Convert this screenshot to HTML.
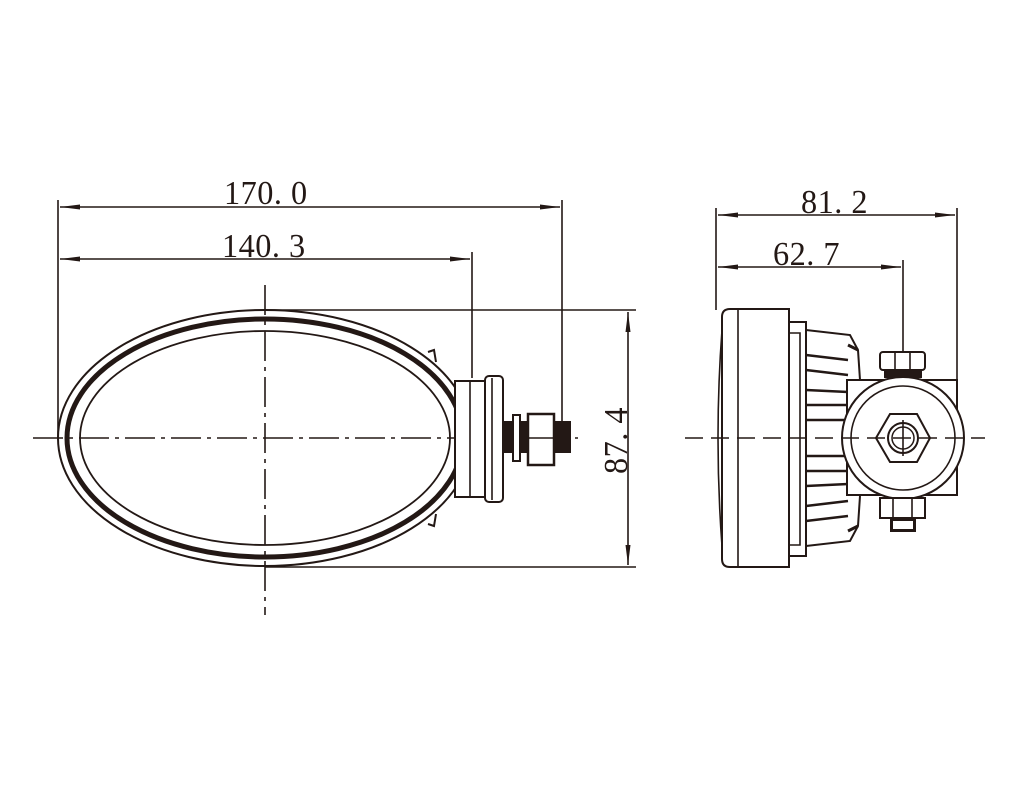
<!DOCTYPE html>
<html><head><meta charset="utf-8"><style>
html,body{margin:0;padding:0;background:#fff;}
svg{display:block;}
text{font-family:"Liberation Serif",serif;font-size:34px;fill:#231815;letter-spacing:0.5px;}
</style></head><body>
<svg width="1020" height="800" viewBox="0 0 1020 800" xmlns="http://www.w3.org/2000/svg">
<defs>
<marker id="a" viewBox="0 0 20 8" refX="20" refY="4" markerWidth="20" markerHeight="8" markerUnits="userSpaceOnUse" orient="auto-start-reverse"><path d="M0,1.5 L20,4 L0,6.5 Z" fill="#231815"/></marker>
</defs>
<g stroke="#231815" fill="none" stroke-width="1.6">
<line x1="58" y1="200" x2="58" y2="440"/>
<line x1="562" y1="200" x2="562" y2="440"/>
<line x1="472" y1="252" x2="472" y2="378"/>
<line x1="60" y1="207" x2="560" y2="207" marker-start="url(#a)" marker-end="url(#a)"/>
<line x1="60" y1="259" x2="470" y2="259" marker-start="url(#a)" marker-end="url(#a)"/>
<line x1="265" y1="310" x2="636" y2="310"/>
<line x1="265" y1="567" x2="636" y2="567"/>
<line x1="628" y1="312" x2="628" y2="565" marker-start="url(#a)" marker-end="url(#a)"/>
<line x1="33" y1="438" x2="578" y2="438" stroke-dasharray="30,6,4,6"/>
<line x1="265" y1="285" x2="265" y2="615" stroke-dasharray="30,6,4,6"/>
<ellipse cx="265" cy="438" rx="207" ry="128" stroke-width="2"/>
<ellipse cx="265" cy="438" rx="198" ry="119" stroke-width="5"/>
<ellipse cx="265" cy="438" rx="185" ry="107" stroke-width="1.8"/>
<path d="M428,352 L434,350 L436,362" stroke-width="2"/>
<path d="M428,524 L434,526 L436,514" stroke-width="2"/>
<rect x="455" y="381" width="30" height="116" stroke-width="2" fill="#fff"/>
<line x1="470" y1="381" x2="470" y2="497"/>
<rect x="485" y="376" width="18" height="126" rx="4" stroke-width="2" fill="#fff"/>
<line x1="492" y1="378" x2="492" y2="500"/>
<rect x="503" y="421" width="68" height="32" fill="#231815" stroke="none"/>
<rect x="513" y="415" width="7" height="46" fill="#fff" stroke-width="2"/>
<rect x="528" y="414" width="26" height="51" fill="#fff" stroke-width="2.5"/>
<line x1="528" y1="438" x2="554" y2="438"/>
<line x1="716" y1="208" x2="716" y2="310"/>
<line x1="957" y1="208" x2="957" y2="382"/>
<line x1="903" y1="260" x2="903" y2="438"/>
<line x1="718" y1="215" x2="955" y2="215" marker-start="url(#a)" marker-end="url(#a)"/>
<line x1="718" y1="267" x2="901" y2="267" marker-start="url(#a)" marker-end="url(#a)"/>
<path d="M730,309 L789,309 L789,567 L730,567 Q722,567 722,559 L722,317 Q722,309 730,309 Z" stroke-width="2" fill="#fff"/>
<line x1="738" y1="310" x2="738" y2="566"/>
<path d="M722,330 Q714,438 722,546"/>
<rect x="789" y="322" width="17" height="234" stroke-width="2" fill="#fff"/>
<path d="M790,333 L800,333 L800,545 L790,545"/>
<path d="M806,330 L850,335 L858,350 L860,380 M806,546 L850,541 L858,526 L860,496" stroke-width="2"/>
<path d="M806,355 L848,360 M806,370 L848,375 M806,390 L848,392 M806,405 L848,405 M806,420 L848,420 M806,456 L848,456 M806,471 L848,471 M806,486 L848,484 M806,506 L848,501 M806,521 L848,516" stroke-width="2.5"/>
<path d="M848,345 L858,350 M848,531 L858,526" stroke-width="3"/>
<rect x="847" y="380" width="110" height="115" stroke-width="2" fill="#fff"/>
<circle cx="903" cy="438" r="61" stroke-width="2" fill="#fff"/>
<circle cx="903" cy="438" r="52"/>
<polygon points="876,438 890,414 917,414 930,438 917,462 890,462" stroke-width="2" fill="#fff"/>
<circle cx="903" cy="438" r="15" stroke-width="2"/>
<circle cx="903" cy="438" r="11" stroke-width="1.5"/>
<rect x="880" y="352" width="45" height="18" rx="3" stroke-width="2" fill="#fff"/>
<line x1="895" y1="352" x2="895" y2="370"/><line x1="910" y1="352" x2="910" y2="370"/>
<rect x="884" y="370" width="38" height="8" fill="#231815" stroke="none"/>
<rect x="880" y="498" width="45" height="20" stroke-width="2" fill="#fff"/>
<line x1="893" y1="498" x2="893" y2="518"/><line x1="912" y1="498" x2="912" y2="518"/>
<rect x="890" y="518" width="26" height="14" fill="#231815" stroke="none"/>
<rect x="893" y="521" width="20" height="8" fill="#fff" stroke="none"/>
<line x1="685" y1="438" x2="985" y2="438" stroke-dasharray="18,8"/>
<line x1="903" y1="420" x2="903" y2="456"/>
</g>
<text transform="translate(224,204) scale(0.95,1)">170. 0</text>
<text transform="translate(222,257) scale(0.95,1)">140. 3</text>
<text transform="translate(801,213) scale(0.95,1)">81. 2</text>
<text transform="translate(773,265) scale(0.95,1)">62. 7</text>
<text transform="translate(627,474) rotate(-90) scale(0.95,1)">87. 4</text>
</svg>
</body></html>
